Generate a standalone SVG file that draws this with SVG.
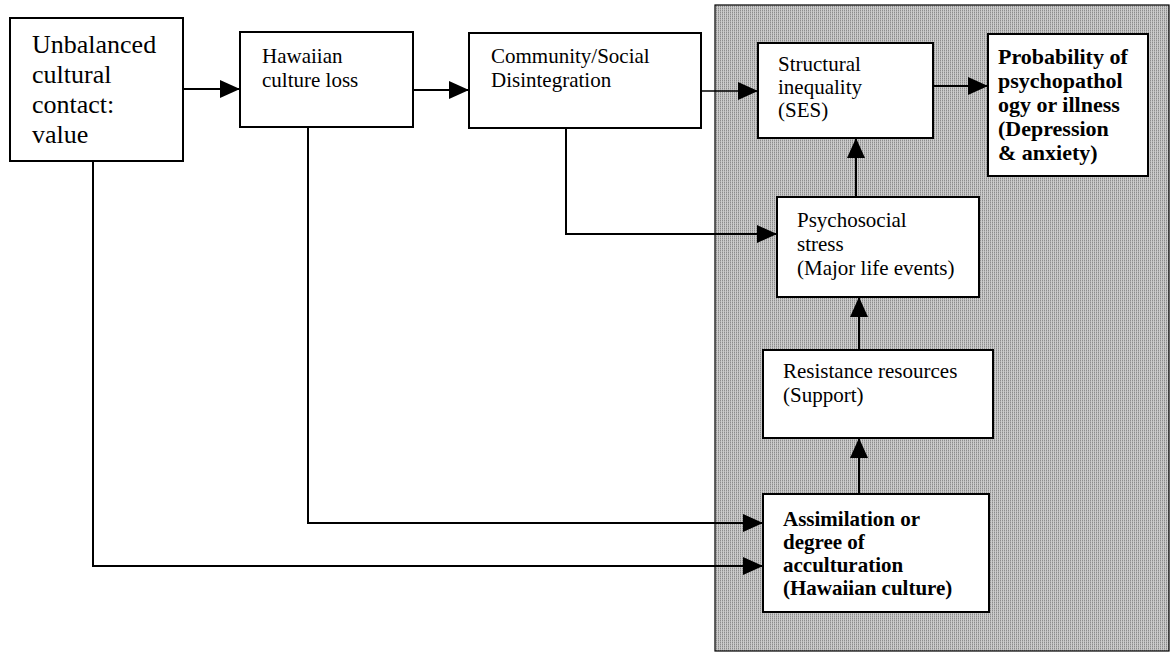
<svg xmlns="http://www.w3.org/2000/svg" width="1172" height="654" viewBox="0 0 1172 654">
  <style>
    .box { fill: #ffffff; stroke: #000000; stroke-width: 2; }
    .lbl { font-family: "Liberation Serif", "Times New Roman", serif; font-size: 21px; fill: #000000; }
    .big { font-size: 26px; }
    .heavy { font-weight: bold; }
    .outcome { font-size: 22px; }
    .link { fill: none; stroke: #000000; stroke-width: 2; }
    .thin { stroke-width: 1.3; }
    .panel { fill: url(#shade); stroke: #000000; stroke-width: 1.2; }
  </style>
  <defs>
    <!-- halftone grey used for the shaded region -->
    <pattern id="shade" width="2" height="2" patternUnits="userSpaceOnUse">
      <rect width="2" height="2" fill="#cccccc"/>
      <rect x="0" y="0" width="1" height="1" fill="#8c8c8c"/>
      <rect x="0" y="1" width="1" height="1" fill="#b0b0b0"/>
    </pattern>
    <marker id="arrow" viewBox="0 0 20 18" refX="20" refY="9" markerWidth="20" markerHeight="18" markerUnits="userSpaceOnUse" orient="auto">
      <path d="M0,0 L20,9 L0,18 Z" fill="#000000"/>
    </marker>
  </defs>

  <rect width="1172" height="654" fill="#ffffff"/>

  <!-- shaded region holding the individual-level factors -->
  <rect id="panel" class="panel" x="715" y="5" width="454" height="646"/>

  <g id="connectors">
    <path class="link" d="M183,89 H240" marker-end="url(#arrow)"/>
    <path class="link" d="M413,90 H469" marker-end="url(#arrow)"/>
    <path class="link thin" d="M701,91 H758" marker-end="url(#arrow)"/>
    <path class="link" d="M933,86 H988" marker-end="url(#arrow)"/>
    <path class="link" d="M856,197 V138" marker-end="url(#arrow)"/>
    <path class="link" d="M859,350 V297" marker-end="url(#arrow)"/>
    <path class="link" d="M859,494 V438" marker-end="url(#arrow)"/>
    <path class="link" d="M566,128 V234 H777" marker-end="url(#arrow)"/>
    <path class="link" d="M308,127 V523 H763" marker-end="url(#arrow)"/>
    <path class="link" d="M93,161 V566 H763" marker-end="url(#arrow)"/>
  </g>

  <g id="unbalanced-contact">
    <rect class="box" x="10" y="18" width="173" height="143"/>
    <text class="lbl big" x="32" y="53">Unbalanced</text>
    <text class="lbl big" x="32" y="83">cultural</text>
    <text class="lbl big" x="32" y="113">contact:</text>
    <text class="lbl big" x="32" y="143">value</text>
  </g>

  <g id="culture-loss">
    <rect class="box" x="240" y="32" width="173" height="95"/>
    <text class="lbl" x="262" y="63">Hawaiian</text>
    <text class="lbl" x="262" y="87">culture loss</text>
  </g>

  <g id="disintegration">
    <rect class="box" x="469" y="33" width="232" height="95"/>
    <text class="lbl" x="491" y="63">Community/Social</text>
    <text class="lbl" x="491" y="87">Disintegration</text>
  </g>

  <g id="structural-inequality">
    <rect class="box" x="758" y="43" width="175" height="95"/>
    <text class="lbl" x="778" y="71">Structural</text>
    <text class="lbl" x="778" y="94">inequality</text>
    <text class="lbl" x="778" y="117">(SES)</text>
  </g>

  <g id="illness-probability">
    <rect class="box" x="988" y="34" width="160" height="142"/>
    <text class="lbl heavy outcome" x="998" y="64">Probability of</text>
    <text class="lbl heavy outcome" x="998" y="88">psychopathol</text>
    <text class="lbl heavy outcome" x="998" y="112">ogy or illness</text>
    <text class="lbl heavy outcome" x="998" y="136">(Depression</text>
    <text class="lbl heavy outcome" x="998" y="160">&amp; anxiety)</text>
  </g>

  <g id="psychosocial-stress">
    <rect class="box" x="777" y="197" width="202" height="100"/>
    <text class="lbl" x="797" y="227">Psychosocial</text>
    <text class="lbl" x="797" y="251">stress</text>
    <text class="lbl" x="797" y="275">(Major life events)</text>
  </g>

  <g id="resistance-resources">
    <rect class="box" x="763" y="350" width="230" height="88"/>
    <text class="lbl" x="783" y="378">Resistance resources</text>
    <text class="lbl" x="783" y="402">(Support)</text>
  </g>

  <g id="assimilation">
    <rect class="box" x="763" y="494" width="226" height="118"/>
    <text class="lbl heavy" x="783" y="526">Assimilation or</text>
    <text class="lbl heavy" x="783" y="549">degree of</text>
    <text class="lbl heavy" x="783" y="572">acculturation</text>
    <text class="lbl heavy" x="783" y="595">(Hawaiian culture)</text>
  </g>
</svg>
